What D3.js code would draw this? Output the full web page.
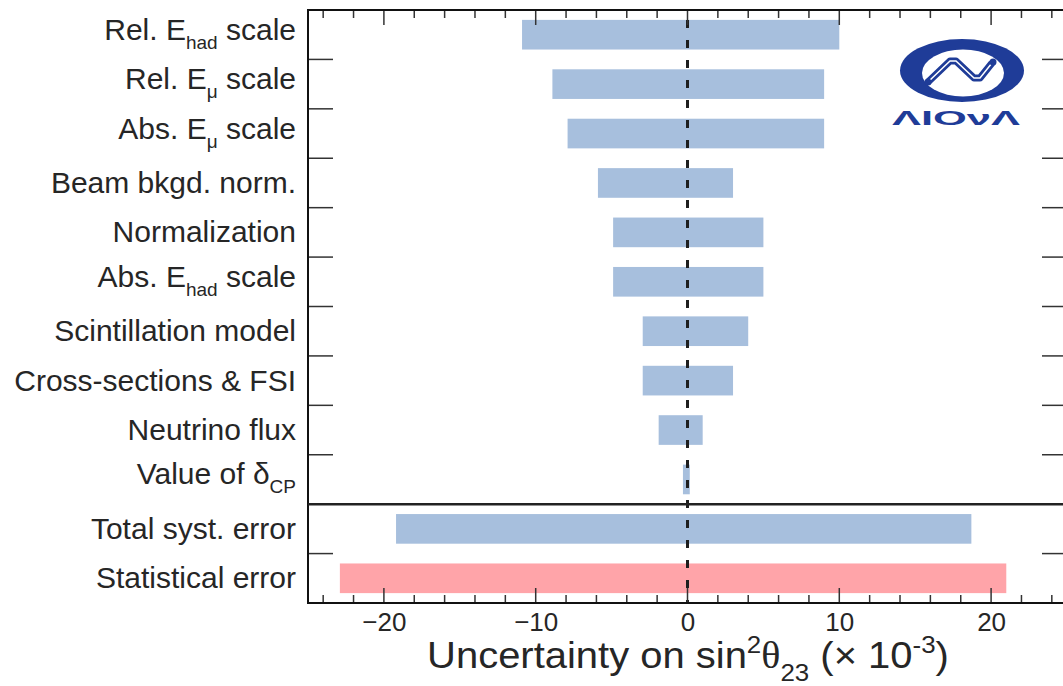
<!DOCTYPE html>
<html>
<head>
<meta charset="utf-8">
<title>Uncertainty on sin2 theta23</title>
<script src="https://d3js.org/d3.v7.min.js"></script>
<style>
  body { margin: 0; background: #fff; }
  text { font-family: "Liberation Sans", Arial, sans-serif; fill: #262626; }
</style>
</head>
<body>
<svg id="chart" width="1063" height="686"></svg>
<script>
// labels use _{..} for subscripts and ^{..} for superscripts
const categories = [
  "Rel. E_{had} scale", "Rel. E_{μ} scale", "Abs. E_{μ} scale", "Beam bkgd. norm.",
  "Normalization", "Abs. E_{had} scale", "Scintillation model", "Cross-sections & FSI",
  "Neutrino flux", "Value of δ_{CP}", "Total syst. error", "Statistical error"
];
const lowValues  = [-10.9, -8.9, -7.9, -5.9, -4.9, -4.9, -2.95, -2.95, -1.9, -0.3, -19.2, -22.9];
const highValues = [10.0, 9.0, 9.0, 3.0, 5.0, 5.0, 4.0, 3.0, 1.0, 0.15, 18.7, 21.0];
const barKinds = ["syst", "syst", "syst", "syst", "syst", "syst", "syst", "syst", "syst", "syst", "syst", "stat"];
const majorTicks = [-20, -10, 0, 10, 20];
const minorTicks = [-24, -22, -18, -16, -14, -12, -8, -6, -4, -2, 2, 4, 6, 8, 12, 14, 16, 18, 22, 24];
const separatorAfter = "Value of δ_{CP}";
const xTitle = "Uncertainty on sin^{2}θ_{23} (× 10^{-3})";

const colors = { syst: "#a7bfdd", stat: "#ffa4a9" };

const svg = d3.select("#chart");
const pLeft = 308, pRight = 1067, pTop = 10, pBottom = 603;

const x = d3.scaleLinear().domain([-25, 25]).range([pLeft, pRight]);
const y = d3.scaleBand().domain(categories).range([pTop, pBottom]);

const rows = categories.map((c, i) => ({ cat: c, lo: lowValues[i], hi: highValues[i], kind: barKinds[i] }));

// bars
const barH = y.bandwidth() * 0.6;
svg.append("g").selectAll("rect")
  .data(rows)
  .join("rect")
    .attr("x", d => x(d.lo))
    .attr("width", d => x(d.hi) - x(d.lo))
    .attr("y", d => y(d.cat) + (y.bandwidth() - barH) / 2)
    .attr("height", barH)
    .attr("fill", d => colors[d.kind]);

// dashed zero line
svg.append("line")
  .attr("x1", x(0)).attr("x2", x(0))
  .attr("y1", pTop).attr("y2", pBottom)
  .attr("stroke", "#1e1e1e")
  .attr("stroke-width", 3)
  .attr("stroke-dasharray", "8,12")
  .attr("stroke-dashoffset", 10);

// rich text helper
function richText(textSel, str, subSize, subShift, supShift) {
  const parts = str.split(/(_\{[^}]*\}|\^\{[^}]*\})/).filter(s => s.length);
  let shift = 0;
  parts.forEach(p => {
    let target = 0, txt = p, small = false;
    if (p.startsWith("_{")) { target = subShift; txt = p.slice(2, -1); small = true; }
    else if (p.startsWith("^{")) { target = -supShift; txt = p.slice(2, -1); small = true; }
    const t = textSel.append("tspan").attr("dy", target - shift).text(txt);
    if (small) t.style("font-size", subSize + "px");
    if (txt === "θ") t.style("font-family", "'Liberation Serif', 'Times New Roman', serif");
    shift = target;
  });
}

// y labels
svg.append("g").selectAll("text")
  .data(categories)
  .join("text")
    .attr("x", 296)
    .attr("y", d => y(d) + y.bandwidth() / 2 + 10 - (d.includes("_{") ? 5 : 0))
    .attr("text-anchor", "end")
    .style("font-size", "30px")
    .each(function (d) { richText(d3.select(this), d, 19, 9, 12); });

// frame ticks
const frame = svg.append("g").attr("stroke", "#333").attr("stroke-width", 1.5);
const bounds = categories.slice(1).map(c => y(c));
frame.selectAll("line.ly").data(bounds).join("line").attr("class", "ly")
  .attr("x1", pLeft).attr("x2", pLeft + 25).attr("y1", d => d).attr("y2", d => d);
frame.selectAll("line.ry").data(bounds).join("line").attr("class", "ry")
  .attr("x1", pRight - 25).attr("x2", pRight).attr("y1", d => d).attr("y2", d => d);

const allTicks = majorTicks.map(v => ({ v, len: 15 })).concat(minorTicks.map(v => ({ v, len: 8 })));
frame.selectAll("line.tx").data(allTicks).join("line").attr("class", "tx")
  .attr("x1", d => x(d.v)).attr("x2", d => x(d.v)).attr("y1", pTop).attr("y2", d => pTop + d.len);
frame.selectAll("line.bx").data(allTicks).join("line").attr("class", "bx")
  .attr("x1", d => x(d.v)).attr("x2", d => x(d.v)).attr("y1", pBottom).attr("y2", d => pBottom - d.len);

// bottom axis labels
const xAxis = d3.axisBottom(x).tickValues(majorTicks).tickSize(0).tickFormat(d3.format("d"));
const gx = svg.append("g").attr("transform", `translate(0,${pBottom})`).call(xAxis);
gx.select(".domain").remove();
gx.selectAll("text")
  .attr("y", 28).attr("dy", 0)
  .style("font-size", "26px")
  .style("fill", "#262626")
  .style("font-family", "'Liberation Sans', Arial, sans-serif");

// frame lines
svg.append("path")
  .attr("d", `M${pRight},${pTop}H${pLeft}V${pBottom}H${pRight}`)
  .attr("fill", "none").attr("stroke", "#111").attr("stroke-width", 2);
svg.append("line")
  .attr("x1", pRight).attr("x2", pRight).attr("y1", pTop).attr("y2", pBottom)
  .attr("stroke", "#111").attr("stroke-width", 2);
const sepY = y(separatorAfter) + y.bandwidth();
svg.append("line")
  .attr("x1", pLeft).attr("x2", pRight).attr("y1", sepY).attr("y2", sepY)
  .attr("stroke", "#222").attr("stroke-width", 2.5);

// x title, a little wider than tall like the original
const title = svg.append("text")
  .attr("transform", "translate(688,668) scale(1.08,1)")
  .attr("text-anchor", "middle")
  .style("font-size", "37px");
richText(title, xTitle, 24, 13, 15);

// NOvA logo
const logo = svg.append("g");
const blue = "#1f3c98";
logo.append("ellipse").attr("cx", 962).attr("cy", 70.5).attr("rx", 62).attr("ry", 31.5).attr("fill", blue);
logo.append("ellipse").attr("cx", 963).attr("cy", 73).attr("rx", 41).attr("ry", 23.5).attr("fill", "#fff");
const wave = "M928,82 L950,61 L956,61 L974,78 L980,78 L992,63";
logo.append("path").attr("d", wave).attr("fill", "none").attr("stroke", blue).attr("stroke-width", 7).attr("stroke-linejoin", "round");
logo.append("path").attr("d", wave).attr("fill", "none").attr("stroke", "#fff").attr("stroke-width", 1.5);
logo.append("circle").attr("cx", 928).attr("cy", 82).attr("r", 3.5).attr("fill", blue);
logo.append("circle").attr("cx", 993).attr("cy", 62).attr("r", 3.5).attr("fill", blue);
logo.append("text")
  .attr("x", 892).attr("y", 125)
  .attr("textLength", 128).attr("lengthAdjust", "spacingAndGlyphs")
  .style("font-size", "20px").style("font-weight", "bold").style("fill", blue)
  .text("ΛΙΟνΛ");
</script>
</body>
</html>
